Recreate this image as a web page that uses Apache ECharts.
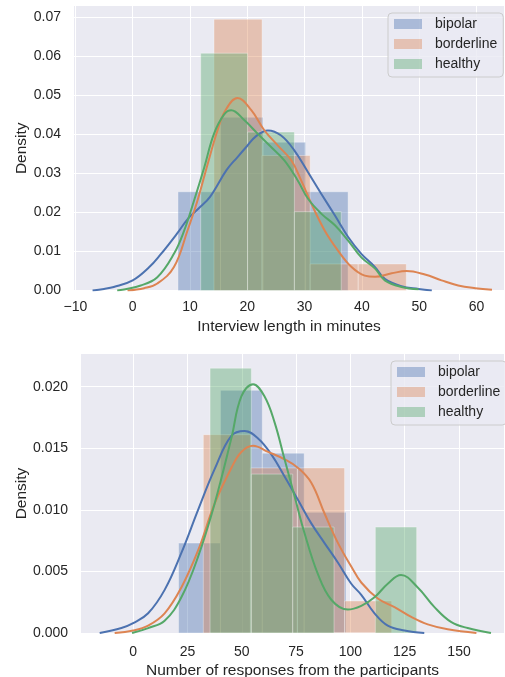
<!DOCTYPE html>
<html>
<head>
<meta charset="utf-8">
<script src="https://cdn.jsdelivr.net/npm/echarts@6/dist/echarts.min.js"></script>
<style>
html, body { margin: 0; padding: 0; background: #fff; }
#chart { width: 505px; height: 677px; }
</style>
</head>
<body>
<div id="chart"></div>
<script>
// groups
const groups = ['bipolar', 'borderline', 'healthy'];

// top panel: interview length (minutes) - histogram bin edges and densities
const lenBipolarEdges = [7.9, 15.33, 22.75, 30.18, 37.6];
const lenBipolarDens = [0.0253, 0.0444, 0.038, 0.0253];
const lenBorderEdges = [14.19, 22.58, 30.97, 39.36, 47.75];
const lenBorderDens = [0.0695, 0.0346, 0.0068, 0.0068];
const lenHealthyEdges = [11.87, 20.05, 28.22, 36.4];
const lenHealthyDens = [0.0608, 0.0406, 0.0202];

// top panel kde curves [minutes, density]
const lenBipolarKde = [[-7.0, 0], [-5.0, 0.0004], [-3.3, 0.0009], [0, 0.0026], [2.9, 0.006], [4.8, 0.0091], [7.7, 0.0145],
  [9.7, 0.0185], [11.5, 0.021], [13.5, 0.024], [16.4, 0.0309], [18.3, 0.0342], [19.9, 0.0369], [21.5, 0.0395], [23.6, 0.041],
  [25.9, 0.0397], [28.2, 0.0359], [30.6, 0.0303], [32.9, 0.0248], [35.3, 0.0192], [37.6, 0.0137], [39.9, 0.0094],
  [42.3, 0.006], [44.0, 0.003], [46.9, 0.0011], [49.9, 0.0004], [52.2, 0]];
const lenBorderKde = [[-0.9, 0], [2.0, 0.0006], [4.3, 0.0018], [7.2, 0.006], [9.6, 0.0155], [11.3, 0.023], [13.1, 0.0325],
  [14.8, 0.041], [16.2, 0.0462], [18.3, 0.0493], [20.7, 0.0462], [23.0, 0.041], [25.3, 0.0372], [27.7, 0.0333],
  [29.4, 0.0282], [31.2, 0.0222], [33.5, 0.0154], [35.8, 0.0103], [38.2, 0.006], [40.5, 0.0038], [42.3, 0.0035],
  [45.2, 0.0044], [47.8, 0.005], [51.0, 0.0041], [53.9, 0.0026], [56.8, 0.0013], [59.8, 0.0006], [62.7, 0.0002]];
const lenHealthyKde = [[-2.7, 0], [1.4, 0.0013], [4.3, 0.0034], [7.2, 0.0094], [9.0, 0.0154], [10.7, 0.023], [12.5, 0.0316],
  [14.2, 0.0402], [16.0, 0.0452], [17.2, 0.0462], [19.5, 0.0436], [21.8, 0.0402], [24.2, 0.0367], [26.5, 0.0333],
  [28.8, 0.0282], [30.6, 0.0235], [32.9, 0.0197], [35.3, 0.0167], [37.6, 0.0128], [39.9, 0.0085], [42.3, 0.0056],
  [44.0, 0.0026], [46.9, 0.0009], [49.9, 0.0003]];

// bottom panel: number of responses - histogram bin edges and densities
const respBipolarEdges = [20.9, 40.18, 59.45, 78.73, 98.0];
const respBipolarDens = [0.0073, 0.0197, 0.0146, 0.0098];
const respBorderEdges = [32.3, 53.98, 75.65, 97.33, 119.0];
const respBorderDens = [0.0161, 0.0134, 0.0134, 0.0026];
const respHealthyEdges = [35.4, 54.42, 73.44, 92.46, 111.48, 130.5];
const respHealthyDens = [0.0215, 0.0129, 0.0086, 0, 0.0086];

// bottom panel kde curves [responses, density]
const respBipolarKde = [[-15.4, 0], [-5.4, 0.0004], [0, 0.0008], [6.9, 0.0016], [14.5, 0.0035], [22.2, 0.0065], [29.9, 0.01],
  [37.5, 0.0133], [45.2, 0.016], [51.3, 0.0164], [57.5, 0.0158], [63.6, 0.0145], [69.7, 0.0127], [75.9, 0.0108],
  [82.0, 0.0089], [88.1, 0.0073], [94.3, 0.0057], [100.4, 0.004], [105.0, 0.0031], [111.1, 0.0016], [117.2, 0.0006],
  [124.9, 0.0002], [134.0, 0]];
const respBorderKde = [[-8.5, 0], [0, 0.0002], [6.9, 0.0006], [14.5, 0.0016], [22.2, 0.0037], [29.9, 0.0067], [37.5, 0.0105],
  [45.2, 0.0134], [49.8, 0.0147], [55.2, 0.0152], [62.1, 0.0147], [69.7, 0.0141], [75.9, 0.0134], [82.0, 0.0122],
  [88.1, 0.0097], [94.3, 0.0073], [100.4, 0.0054], [105.0, 0.0041], [112.6, 0.0028], [120.3, 0.0021], [128.0, 0.0013],
  [135.6, 0.0007], [144.8, 0.0003], [158.0, 0]];
const respHealthyKde = [[-0.5, 0], [6.9, 0.0004], [14.5, 0.001], [22.2, 0.0029], [29.9, 0.0062], [37.5, 0.0105], [45.2, 0.0158],
  [49.8, 0.0192], [55.2, 0.0202], [60.5, 0.0192], [65.1, 0.0171], [69.7, 0.0141], [74.3, 0.0111], [78.9, 0.0081],
  [85.0, 0.0048], [91.2, 0.0027], [98.8, 0.0019], [105.0, 0.0022], [111.1, 0.0029], [117.2, 0.004], [123.3, 0.0047],
  [131.0, 0.0037], [138.7, 0.0021], [146.3, 0.0009], [154.0, 0.0004], [164.7, 0]];

// tick labels
const lenTicks = [-10, 0, 10, 20, 30, 40, 50, 60];
const lenDensTicks = [0, 0.01, 0.02, 0.03, 0.04, 0.05, 0.06, 0.07];
const respTicks = [0, 25, 50, 75, 100, 125, 150];
const respDensTicks = [0, 0.005, 0.01, 0.015, 0.02];

const colors = ['#4C72B0', '#DD8452', '#55A868'];
const fills = ['rgba(76,114,176,0.4)', 'rgba(221,132,82,0.4)', 'rgba(85,168,104,0.4)'];
const textColor = '#262626';
const font = 'Liberation Sans, Arial, sans-serif';

function histSeries(name, edges, dens, idx, axis) {
    const data = dens.map((d, i) => [edges[i], edges[i + 1], d]);
    return {
        type: 'custom',
        name: name,
        xAxisIndex: axis,
        yAxisIndex: axis,
        itemStyle: { color: fills[idx] },
        encode: { x: [0, 1], y: 2 },
        data: data,
        renderItem: function (params, api) {
            const p0 = api.coord([api.value(0), api.value(2)]);
            const p1 = api.coord([api.value(1), 0]);
            return {
                type: 'rect',
                shape: { x: p0[0], y: p0[1], width: p1[0] - p0[0], height: p1[1] - p0[1] },
                style: { fill: fills[idx], stroke: 'rgba(255,255,255,0.35)', lineWidth: 1 }
            };
        }
    };
}

function kdeSeries(name, points, idx, axis) {
    return {
        type: 'line',
        name: name + ' kde',
        xAxisIndex: axis,
        yAxisIndex: axis,
        data: points,
        smooth: 0.4,
        showSymbol: false,
        silent: true,
        lineStyle: { color: colors[idx], width: 2 },
        itemStyle: { color: colors[idx] }
    };
}

function minusFmt(v) {
    return v < 0 ? '\u2212' + (-v) : String(v);
}

function xAxisCfg(grid, min, max, ticks, name, margin, gap) {
    return {
        gridIndex: grid, type: 'value', min: min, max: max,
        axisLine: { show: false },
        axisTick: { show: false, customValues: ticks },
        axisLabel: { customValues: ticks, formatter: minusFmt, color: textColor, fontSize: 14, fontFamily: font, margin: margin },
        splitLine: { show: true, lineStyle: { color: '#ffffff', width: 1 } },
        name: name, nameLocation: 'middle', nameGap: gap,
        nameTextStyle: { color: textColor, fontSize: 15.5, fontFamily: font }
    };
}

function yAxisCfg(grid, max, ticks, digits, gap) {
    return {
        gridIndex: grid, type: 'value', min: 0, max: max,
        axisLine: { show: false },
        axisTick: { show: false, customValues: ticks },
        axisLabel: { customValues: ticks, formatter: v => v.toFixed(digits), color: textColor, fontSize: 14, fontFamily: font, margin: 13 },
        splitLine: { show: true, lineStyle: { color: '#ffffff', width: 1 } },
        name: 'Density', nameLocation: 'middle', nameGap: gap, nameRotate: 90, nameMoveOverlap: false,
        nameTextStyle: { color: textColor, fontSize: 15.5, fontFamily: font }
    };
}

function legendCfg(left, top) {
    return {
        orient: 'vertical', left: left, top: top,
        data: groups, icon: 'rect', itemWidth: 28, itemHeight: 10, itemGap: 4,
        padding: [3, 6, 5, 6],
        backgroundColor: 'rgba(234,234,242,0.8)', borderColor: '#cccccc', borderWidth: 1, borderRadius: 4,
        selectedMode: false,
        textStyle: { color: textColor, fontSize: 14, fontFamily: font, lineHeight: 16, padding: [0, 0, 0, 8] }
    };
}

const option = {
    animation: false,
    grid: [
        { left: 74, top: 6, width: 430, height: 284.5, outerBoundsMode: 'none', containLabel: false,
          show: true, backgroundColor: '#EAEAF2', borderWidth: 0 },
        { left: 81, top: 354, width: 423, height: 279, outerBoundsMode: 'none', containLabel: false,
          show: true, backgroundColor: '#EAEAF2', borderWidth: 0 }
    ],
    xAxis: [
        xAxisCfg(0, -10.24, 64.8, lenTicks, 'Interview length in minutes', 10, 28),
        xAxisCfg(1, -24.0, 170.7, respTicks, 'Number of responses from the participants', 12, 30)
    ],
    yAxis: [
        yAxisCfg(0, 0.0729, lenDensTicks, 2, 44),
        yAxisCfg(1, 0.02265, respDensTicks, 3, 51)
    ],
    legend: [legendCfg(388, 13), legendCfg(391, 361)],
    series: [
        histSeries('bipolar', lenBipolarEdges, lenBipolarDens, 0, 0),
        kdeSeries('bipolar', lenBipolarKde, 0, 0),
        histSeries('borderline', lenBorderEdges, lenBorderDens, 1, 0),
        kdeSeries('borderline', lenBorderKde, 1, 0),
        histSeries('healthy', lenHealthyEdges, lenHealthyDens, 2, 0),
        kdeSeries('healthy', lenHealthyKde, 2, 0),
        histSeries('bipolar', respBipolarEdges, respBipolarDens, 0, 1),
        kdeSeries('bipolar', respBipolarKde, 0, 1),
        histSeries('borderline', respBorderEdges, respBorderDens, 1, 1),
        kdeSeries('borderline', respBorderKde, 1, 1),
        histSeries('healthy', respHealthyEdges, respHealthyDens, 2, 1),
        kdeSeries('healthy', respHealthyKde, 2, 1)
    ]
};

const myChart = echarts.init(document.getElementById('chart'), null, { renderer: 'canvas' });
myChart.setOption(option);
</script>
</body>
</html>
